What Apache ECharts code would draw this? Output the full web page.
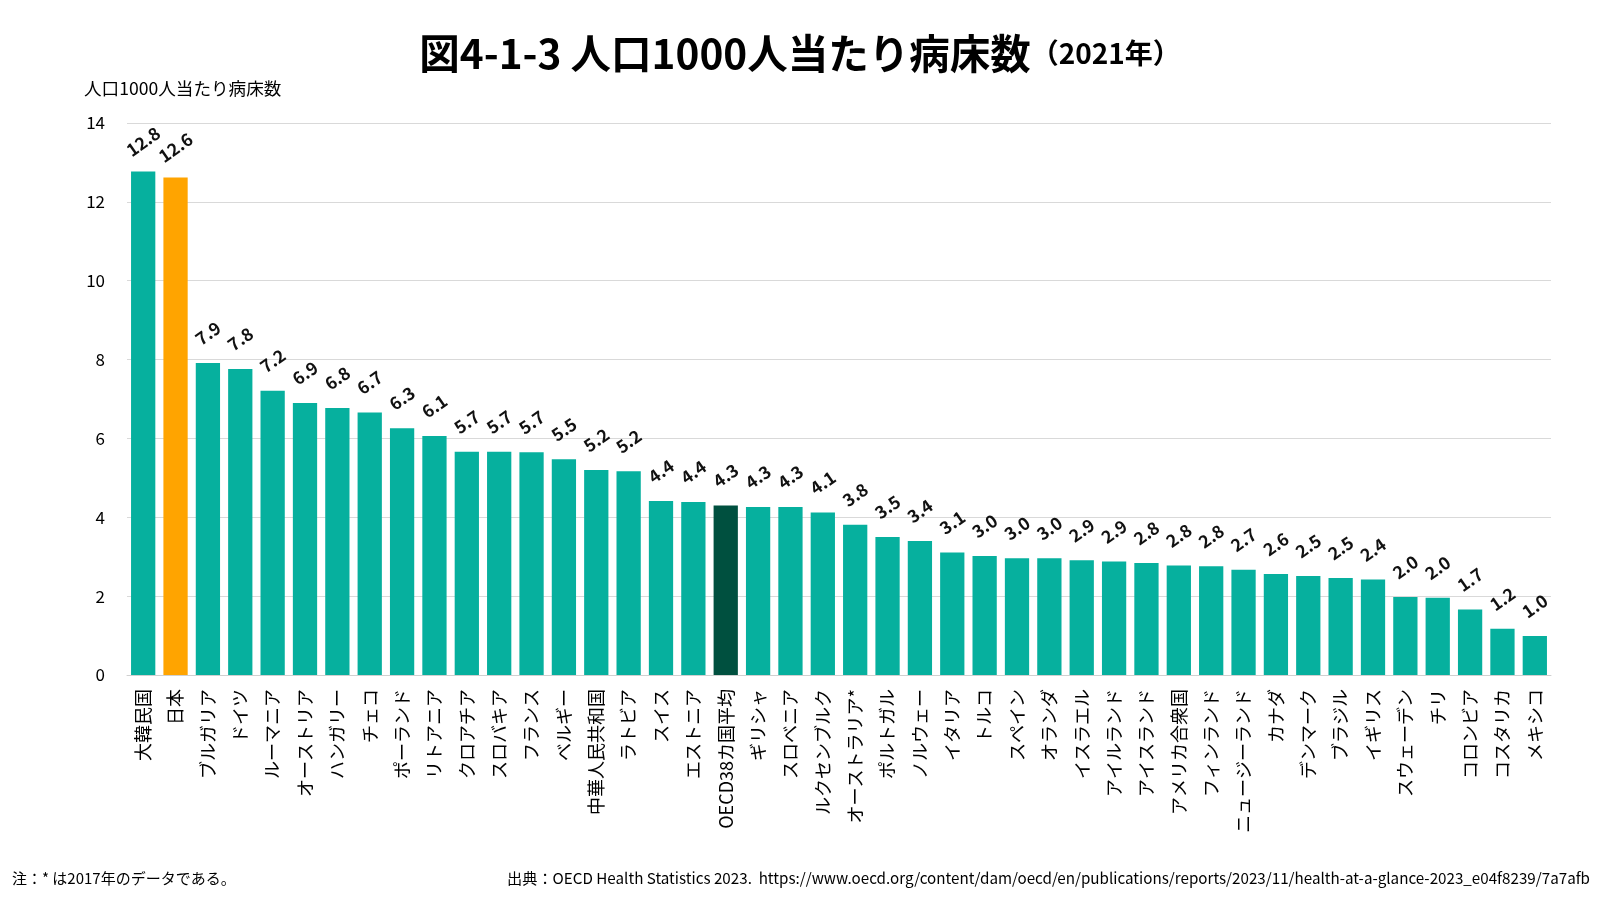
<!DOCTYPE html>
<html>
<head>
<meta charset="utf-8">
<script src="https://cdn.jsdelivr.net/npm/echarts@6/dist/echarts.min.js"></script>
<style>
  html, body { margin: 0; padding: 0; background: #fff; }
  #chart { width: 1600px; height: 900px; }
</style>
</head>
<body>
<div id="chart"></div>
<script>
// 国名
var countries = ['大韓民国', '日本', 'ブルガリア', 'ドイツ', 'ルーマニア', 'オーストリア', 'ハンガリー', 'チェコ',
  'ポーランド', 'リトアニア', 'クロアチア', 'スロバキア', 'フランス', 'ベルギー', '中華人民共和国', 'ラトビア',
  'スイス', 'エストニア', 'OECD38カ国平均', 'ギリシャ', 'スロベニア', 'ルクセンブルク', 'オーストラリア*',
  'ポルトガル', 'ノルウェー', 'イタリア', 'トルコ', 'スペイン', 'オランダ', 'イスラエル', 'アイルランド',
  'アイスランド', 'アメリカ合衆国', 'フィンランド', 'ニュージーランド', 'カナダ', 'デンマーク', 'ブラジル',
  'イギリス', 'スウェーデン', 'チリ', 'コロンビア', 'コスタリカ', 'メキシコ'];
// 病床数（人口1000人当たり）
var beds = [12.77, 12.62, 7.91, 7.76, 7.21, 6.90, 6.77, 6.66,
  6.26, 6.06, 5.66, 5.66, 5.65, 5.47, 5.20, 5.17,
  4.41, 4.39, 4.30, 4.26, 4.26, 4.12, 3.81,
  3.50, 3.40, 3.11, 3.02, 2.96, 2.96, 2.91, 2.88,
  2.84, 2.78, 2.76, 2.67, 2.56, 2.51, 2.46,
  2.42, 1.98, 1.96, 1.66, 1.17, 0.99];
var yTicks = [0, 2, 4, 6, 8, 10, 12, 14];

var colorBase = '#06B09E';
var colorJapan = '#FFA400';
var colorOecd = '#00503F';

function barColor(name) {
  if (name === '日本') return colorJapan;
  if (name.indexOf('OECD') === 0) return colorOecd;
  return colorBase;
}

var font = '"Noto Sans CJK JP", "Noto Sans", sans-serif';
var chart = echarts.init(document.getElementById('chart'));

var option = {
  backgroundColor: '#fff',
  textStyle: { fontFamily: font },
  title: {
    text: '{m|図4-1-3 人口1000人当たり病床数}{s|（2021年）}',
    left: 'center',
    top: 28,
    textStyle: {
      rich: {
        m: { fontFamily: font, fontSize: 40.5, fontWeight: 'bold', color: '#000' },
        s: { fontFamily: font, fontSize: 28, fontWeight: 'bold', color: '#000' }
      }
    }
  },
  grid: { left: 127, right: 49, top: 123, bottom: 225, containLabel: false },
  xAxis: {
    type: 'category',
    data: countries,
    axisTick: { show: false },
    axisLine: { lineStyle: { color: '#d0d0d0', width: 1 } },
    axisLabel: {
      interval: 0,
      rotate: 90,
      margin: 14,
      fontSize: 18,
      color: '#000',
      fontFamily: font
    }
  },
  yAxis: {
    type: 'value',
    min: 0,
    max: yTicks[yTicks.length - 1],
    interval: 2,
    name: '人口1000人当たり病床数',
    nameLocation: 'end',
    nameGap: 26,
    nameTextStyle: { fontSize: 17.6, color: '#000', align: 'left', padding: [0, 0, 0, -43], fontFamily: font },
    axisLine: { show: false },
    axisTick: { show: false },
    axisLabel: { fontSize: 17, color: '#000', margin: 22, fontFamily: font },
    splitLine: { lineStyle: { color: '#d9d9d9', width: 1 } }
  },
  series: [{
    type: 'bar',
    barWidth: '75%',
    data: countries.map(function (c, i) {
      return { value: beds[i], itemStyle: { color: barColor(c) } };
    }),
    label: {
      show: true,
      position: 'top',
      distance: 30,
      rotate: 35,
      align: 'center',
      verticalAlign: 'middle',
      fontSize: 17.5,
      fontWeight: 'bold',
      color: '#111',
      fontFamily: font,
      formatter: function (p) { return p.value.toFixed(1); }
    }
  }],
  graphic: [
    {
      type: 'text', left: 12, top: 871,
      style: { text: '注：* は2017年のデータである。', fontSize: 15, fill: '#000', fontFamily: font }
    },
    {
      type: 'text', right: 10, top: 871,
      style: {
        text: '出典：OECD Health Statistics 2023.  https://www.oecd.org/content/dam/oecd/en/publications/reports/2023/11/health-at-a-glance-2023_e04f8239/7a7afb',
        fontSize: 15.2, fill: '#000', fontFamily: font
      }
    }
  ]
};

chart.setOption(option);
</script>
</body>
</html>
